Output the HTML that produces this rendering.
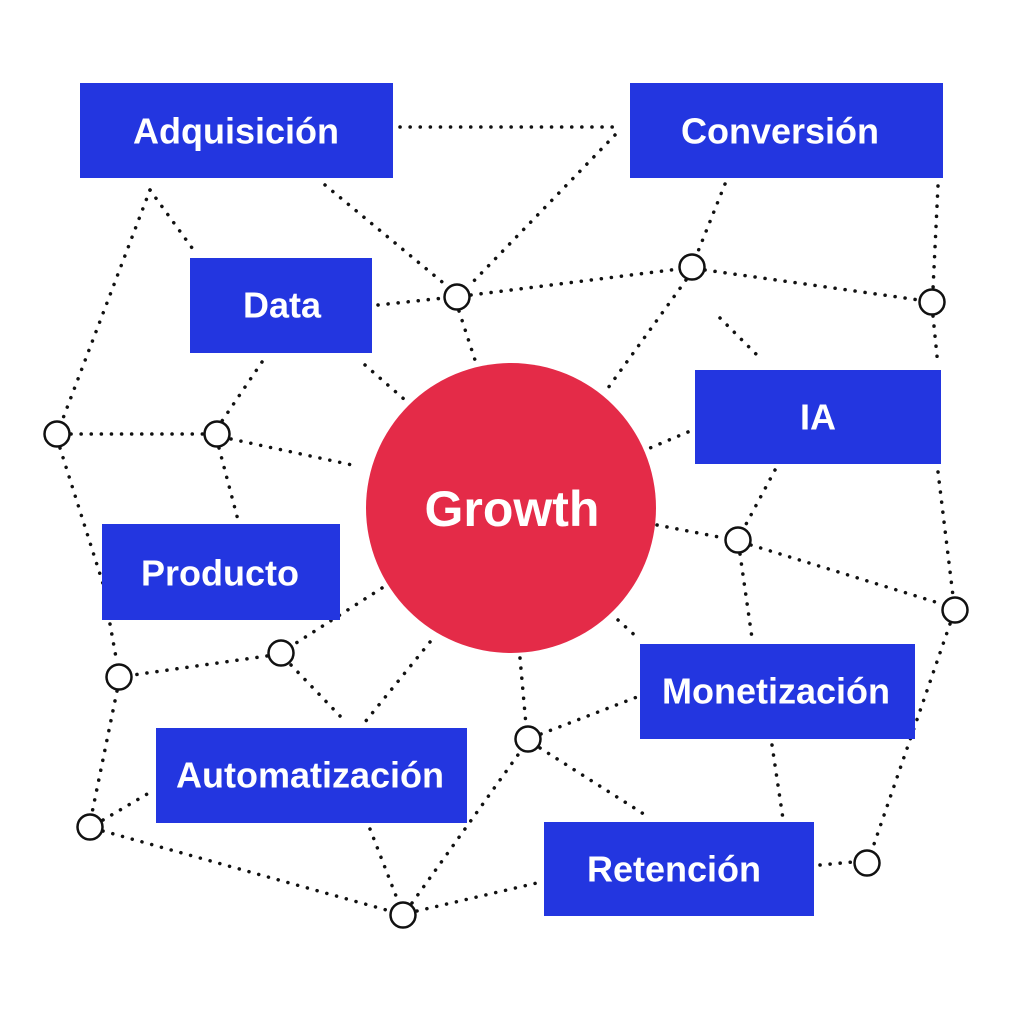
<!DOCTYPE html>
<html><head><meta charset="utf-8"><style>
html,body{margin:0;padding:0;background:#fff;width:1024px;height:1024px;overflow:hidden}
svg text{font-family:"Liberation Sans",Arial,sans-serif;font-weight:bold;fill:#fff;text-anchor:middle;dominant-baseline:central}
</style></head><body>
<svg width="1024" height="1024" viewBox="0 0 1024 1024" xmlns="http://www.w3.org/2000/svg">
<g stroke="#111" stroke-width="3.5" stroke-linecap="round" stroke-dasharray="0.1 10" fill="none">
<line x1="400" y1="127" x2="618" y2="127"/>
<line x1="615" y1="135" x2="468" y2="287"/>
<line x1="325" y1="185" x2="447" y2="286"/>
<line x1="378" y1="305" x2="444" y2="298"/>
<line x1="471" y1="295" x2="679" y2="269"/>
<line x1="705" y1="270" x2="919" y2="300"/>
<line x1="725" y1="184" x2="697" y2="254"/>
<line x1="938" y1="186" x2="933" y2="289"/>
<line x1="933" y1="316" x2="938" y2="366"/>
<line x1="686" y1="280" x2="608" y2="388"/>
<line x1="720" y1="318" x2="760" y2="358"/>
<line x1="459" y1="311" x2="475" y2="360"/>
<line x1="365" y1="365" x2="405" y2="400"/>
<line x1="150" y1="190" x2="62" y2="421"/>
<line x1="150" y1="190" x2="195" y2="252"/>
<line x1="71" y1="434" x2="203" y2="434"/>
<line x1="231" y1="439" x2="357" y2="466"/>
<line x1="262" y1="362" x2="222" y2="421"/>
<line x1="219" y1="448" x2="238" y2="520"/>
<line x1="60" y1="448" x2="105" y2="590"/>
<line x1="688" y1="432" x2="650" y2="448"/>
<line x1="775" y1="470" x2="744" y2="528"/>
<line x1="657" y1="525" x2="724" y2="538"/>
<line x1="751" y1="545" x2="942" y2="604"/>
<line x1="938" y1="472" x2="953" y2="596"/>
<line x1="740" y1="554" x2="752" y2="638"/>
<line x1="950" y1="624" x2="872" y2="850"/>
<line x1="382" y1="588" x2="293" y2="645"/>
<line x1="267" y1="656" x2="133" y2="675"/>
<line x1="110" y1="624" x2="117" y2="663"/>
<line x1="117" y1="691" x2="92" y2="813"/>
<line x1="291" y1="665" x2="340" y2="716"/>
<line x1="430" y1="642" x2="365" y2="722"/>
<line x1="103" y1="831" x2="390" y2="911"/>
<line x1="103" y1="820" x2="154" y2="790"/>
<line x1="370" y1="829" x2="398" y2="901"/>
<line x1="412" y1="903" x2="520" y2="752"/>
<line x1="541" y1="734" x2="637" y2="697"/>
<line x1="520" y1="658" x2="526" y2="725"/>
<line x1="540" y1="748" x2="650" y2="818"/>
<line x1="417" y1="911" x2="541" y2="882"/>
<line x1="618" y1="620" x2="640" y2="640"/>
<line x1="772" y1="745" x2="783" y2="819"/>
<line x1="820" y1="865" x2="853" y2="862"/>
</g>
<g fill="#fff" stroke="#111" stroke-width="2.5">
<circle cx="457" cy="297" r="12.5"/><circle cx="692" cy="267" r="12.5"/><circle cx="932" cy="302" r="12.5"/>
<circle cx="57" cy="434" r="12.5"/><circle cx="217" cy="434" r="12.5"/><circle cx="738" cy="540" r="12.5"/>
<circle cx="955" cy="610" r="12.5"/><circle cx="119" cy="677" r="12.5"/><circle cx="281" cy="653" r="12.5"/>
<circle cx="528" cy="739" r="12.5"/><circle cx="90" cy="827" r="12.5"/><circle cx="403" cy="915" r="12.5"/>
<circle cx="867" cy="863" r="12.5"/>
</g>
<g fill="#2336e0">
<rect x="80" y="83" width="313" height="95"/>
<rect x="630" y="83" width="313" height="95"/>
<rect x="190" y="258" width="182" height="95"/>
<rect x="695" y="370" width="246" height="94"/>
<rect x="102" y="524" width="238" height="96"/>
<rect x="640" y="644" width="275" height="95"/>
<rect x="156" y="728" width="311" height="95"/>
<rect x="544" y="822" width="270" height="94"/>
</g>
<circle cx="511" cy="508" r="145" fill="#e42b48"/>
<g font-size="36">
<text x="236" y="131">Adquisición</text>
<text x="780" y="131">Conversión</text>
<text x="282" y="305">Data</text>
<text x="818" y="417">IA</text>
<text x="220" y="573">Producto</text>
<text x="776" y="691">Monetización</text>
<text x="310" y="775">Automatización</text>
<text x="674" y="869">Retención</text>
</g>
<text x="512" y="509" font-size="50">Growth</text>
</svg>
</body></html>
